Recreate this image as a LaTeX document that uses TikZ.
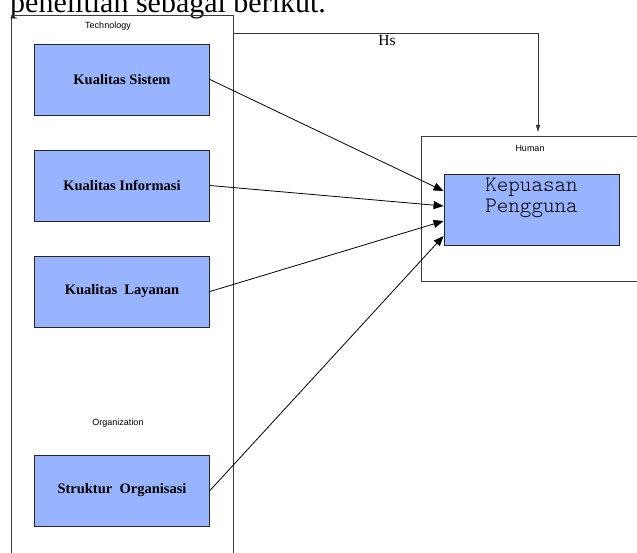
\documentclass[tikz,border=0pt]{standalone}
\usepackage{fontspec}
\setmainfont{Liberation Serif}
\newfontfamily\arialf{Liberation Sans}
\newfontfamily\courf{lmmonolt10-regular.otf}
\usetikzlibrary{arrows.meta}
\definecolor{boxblue}{RGB}{153,180,255}
\definecolor{grpline}{RGB}{60,60,60}
\tikzset{
  group/.style={draw=grpline, line width=0.8pt, fill=none, inner sep=0pt, anchor=north west},
  grouplabel/.style={font=\arialf\fontsize{9}{10}\selectfont, inner sep=0pt},
  factor/.style={draw=black!85, line width=0.9pt, fill=boxblue, inner sep=0pt,
    minimum width=175pt, minimum height=71pt, font=\bfseries\fontsize{14.5}{16}\selectfont},
  conn/.style={draw=black, line width=0.8pt, -{Triangle[length=10pt,width=8pt]}},
  hsconn/.style={draw=black!80, line width=0.8pt, -{Triangle[length=7pt,width=4pt]}}
}
\begin{document}
\begin{tikzpicture}[x=1pt,y=-1pt]
\useasboundingbox (0,0) rectangle (637,553);
\clip (0,0) rectangle (637,553);
\node[anchor=base west, inner sep=0pt, font=\fontsize{30}{30}\selectfont] (intro) at (10,12.7) {penelitian sebagai berikut.};
% groups
\node[group, minimum width=222pt, minimum height=560pt] (tech) at (11,15) {};
\node[grouplabel] (techlbl) at (108,26) {Technology};
\node[grouplabel] (orglbl) at (118,423) {Organization};
\node[group, minimum width=230pt, minimum height=145pt] (human) at (421,136) {};
\node[grouplabel] (humanlbl) at (530,148) {Human};
% factor boxes
\node[factor] (ks) at (122,79.5) {Kualitas Sistem};
\node[factor] (ki) at (122,185.5) {Kualitas Informasi};
\node[factor] (kl) at (122,291.5) {Kualitas~ Layanan};
\node[factor] (so) at (122,490.5) {Struktur~ Organisasi};
\node[factor, font=\normalfont] (kp) at (531.5,209.5) {};
\node[anchor=north, inner sep=0pt, align=center, font=\courf\fontsize{22}{21}\selectfont] (kptext) at (531.5,177.5) {Kepuasan\\Pengguna};
% connectors
\draw[conn] (ks.east) -- ([yshift=18.5pt]kp.west);
\draw[conn] (ki.east) -- ([yshift=3.5pt]kp.west);
\draw[conn] (kl.east) -- ([yshift=-11.5pt]kp.west);
\draw[conn] (so.east) -- ([yshift=-26.5pt]kp.west);
\coordinate (hsbend) at (538,33);
\draw[hsconn, shorten >=4pt] (tech.east |- hsbend) -- (hsbend) -- (hsbend |- human.north);
\node[inner sep=0pt, font=\fontsize{15.5}{16}\selectfont] (hs) at (387,41) {Hs};
\end{tikzpicture}
\end{document}
